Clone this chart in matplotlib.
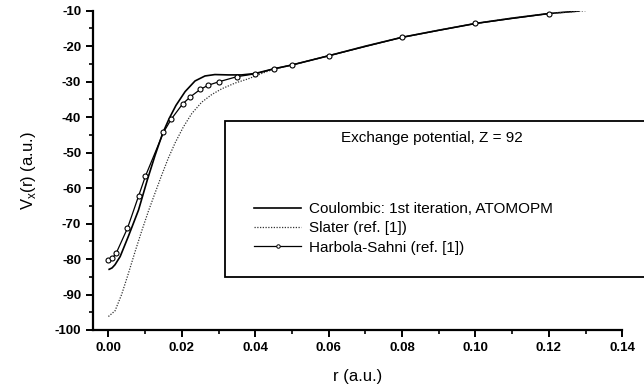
import matplotlib
matplotlib.use("Agg")
import matplotlib.pyplot as plt
from matplotlib.patches import Rectangle
from matplotlib.lines import Line2D

plt.rcParams['font.family'] = ['Liberation Sans', 'DejaVu Sans']
plt.rcParams['mathtext.fontset'] = 'custom'
plt.rcParams['mathtext.rm'] = 'Liberation Sans'
plt.rcParams['axes.unicode_minus'] = False

# Coulombic: 1st iteration, ATOMOPM (solid)
coul_r = [0.0002, 0.001, 0.0018, 0.0032, 0.0054, 0.0082, 0.0106, 0.0127, 0.0148,
          0.0166, 0.0184, 0.0209, 0.0236, 0.0263, 0.029, 0.0327, 0.0363, 0.040,
          0.045, 0.050, 0.060, 0.070, 0.080, 0.090, 0.100, 0.110, 0.120, 0.128]
coul_v = [-82.9, -82.5, -81.6, -79.3, -73.7, -66.2, -57.7, -50.8, -44.5,
          -40.3, -36.7, -32.8, -29.8, -28.4, -28.0, -28.1, -28.1, -27.7,
          -26.4, -25.3, -22.7, -20.0, -17.5, -15.5, -13.6, -12.1, -10.8, -10.1]

# Slater (ref. [1]) (dotted)
slater_r = [0.0, 0.0018, 0.0036, 0.0054, 0.0073, 0.0091, 0.0109, 0.0127, 0.0145,
            0.0163, 0.0182, 0.0204, 0.0227, 0.0254, 0.0282, 0.0309, 0.0345,
            0.0381, 0.042, 0.045, 0.050, 0.060, 0.070, 0.080, 0.090, 0.100,
            0.110, 0.120, 0.130]
slater_v = [-96.2, -94.6, -90.0, -84.2, -77.8, -72.0, -66.5, -61.4, -56.4,
            -51.6, -47.2, -42.8, -39.0, -35.8, -33.6, -32.0, -30.4,
            -29.2, -27.6, -26.5, -25.3, -22.7, -20.0, -17.5, -15.5, -13.6,
            -12.1, -10.8, -10.0]

# Harbola-Sahni (ref. [1]) (line + open circles)
hs_r = [0.0, 0.0011, 0.0021, 0.0052, 0.0082, 0.0101, 0.015, 0.0171, 0.0202,
        0.0223, 0.025, 0.0272, 0.0302, 0.035, 0.040, 0.045, 0.050, 0.060,
        0.080, 0.100, 0.120]
hs_v = [-80.3, -79.7, -78.4, -71.3, -62.3, -56.6, -44.3, -40.6, -36.3,
        -34.3, -32.2, -31.0, -30.0, -28.6, -27.8, -26.4, -25.3, -22.7,
        -17.5, -13.6, -10.8]

xticks = [0.00, 0.02, 0.04, 0.06, 0.08, 0.10, 0.12, 0.14]
yticks = [-100, -90, -80, -70, -60, -50, -40, -30, -20, -10]

fig = plt.figure(figsize=(6.44, 3.92), dpi=100)
ax = fig.add_axes([0.1444, 0.1582, 0.8219, 0.8145])

ax.plot(coul_r, coul_v, color='black', lw=1.2)
ax.plot(slater_r, slater_v, color='#333333', lw=0.9, ls=(0, (1, 1.2)))
ax.plot(hs_r, hs_v, color='black', lw=0.9, marker='o', ms=3.6,
        mfc='white', mec='black', mew=0.8)

ax.set_xlim(-0.0042, 0.14)
ax.set_ylim(-100, -10)
ax.set_xticks(xticks)
ax.set_xticklabels(['%.2f' % t for t in xticks])
ax.set_yticks(yticks)
ax.set_xticks([0.01, 0.03, 0.05, 0.07, 0.09, 0.11, 0.13], minor=True)
ax.set_yticks([-95, -85, -75, -65, -55, -45, -35, -25, -15], minor=True)

for s in ['top', 'right']:
    ax.spines[s].set_visible(False)
for s in ['left', 'bottom']:
    ax.spines[s].set_linewidth(1.6)
ax.tick_params(which='major', direction='out', length=5, width=1.4, labelsize=9.5)
ax.tick_params(which='minor', direction='out', length=3, width=1.2)
for lab in ax.get_xticklabels() + ax.get_yticklabels():
    lab.set_fontweight('bold')

ax.set_xlabel('r (a.u.)', fontsize=12, labelpad=11)
ax.set_ylabel(r'V$_{\mathregular{x}}$(r) (a.u.)', fontsize=12, labelpad=12)

# legend box running past the right edge
fig.patches.append(Rectangle((225 / 644, 1 - 277 / 392), 0.7, (277 - 121) / 392,
                             transform=fig.transFigure, fill=True, fc='white',
                             ec='black', lw=1.3, clip_on=False, zorder=5))
fig.text(432 / 644, 1 - 138 / 392, 'Exchange potential, Z = 92', fontsize=11,
         ha='center', va='center', zorder=6)
handles = [Line2D([], [], color='black', lw=1.2),
           Line2D([], [], color='#333333', lw=0.9, ls=(0, (1, 1.2))),
           Line2D([], [], color='black', lw=0.9, marker='o', ms=2.5,
                  mfc='white', mec='black', mew=0.7)]
labels = ['Coulombic: 1st iteration, ATOMOPM', 'Slater (ref. [1])',
          'Harbola-Sahni (ref. [1])']
leg = fig.legend(handles, labels, loc='upper left',
                 bbox_to_anchor=(248 / 644, 1 - 196 / 392), frameon=False,
                 fontsize=11, handlelength=3.1, handletextpad=0.5,
                 labelspacing=0.35, borderaxespad=0)
leg.set_zorder(7)

fig.savefig('out.png', dpi=100)
